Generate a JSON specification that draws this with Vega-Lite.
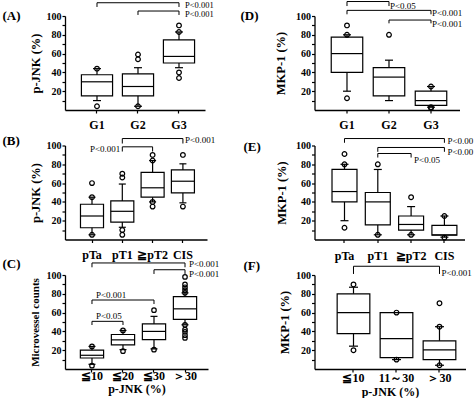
{
"$schema": "https://vega.github.io/schema/vega-lite/v6.json",
"padding": {"left": 2, "top": 0, "right": 0, "bottom": 0},
"bounds": "flush",
"columns": 2,
"spacing": {"row": 35.5, "column": 106.5},
"datasets": {
"A_box": [{"g":"G1","lo":10,"q1":15,"med":30,"q3":37.5,"hi":44},{"g":"G2","lo":4,"q1":15,"med":25,"q3":38.5,"hi":45},{"g":"G3","lo":45,"q1":50,"med":57,"q3":74.5,"hi":83}],
"A_out": [{"g":"G1","v":44},{"g":"G1","v":4},{"g":"G2","v":59},{"g":"G2","v":54},{"g":"G2","v":4},{"g":"G3","v":83},{"g":"G3","v":90},{"g":"G3","v":40},{"g":"G3","v":34}],
"A_br": [{"from":"G1","to":"G3","top":114.1,"drop":109.6},{"from":"G2","to":"G3","top":105.3,"drop":101.1}],
"A_pt": [{"g":"G3","y":112,"label":"P<0.001"},{"g":"G3","y":102.3,"label":"P<0.001"}],
"D_box": [{"g":"G1","lo":20,"q1":40,"med":60,"q3":77.5,"hi":80},{"g":"G2","lo":10,"q1":15,"med":35,"q3":45,"hi":53},{"g":"G3","lo":3,"q1":5,"med":10,"q3":20,"hi":25}],
"D_out": [{"g":"G1","v":90},{"g":"G1","v":80},{"g":"G1","v":12.5},{"g":"G2","v":80},{"g":"G3","v":25},{"g":"G3","v":3},{"g":"G3","v":2}],
"D_br": [{"from":"G1","to":"G2","top":115.4,"drop":110.6},{"from":"G1","to":"G3","top":106,"drop":101.8},{"from":"G2","to":"G3","top":95.7,"drop":92.2}],
"D_pt": [{"g":"G2","y":111,"label":"P<0.05"},{"g":"G3","y":102.9,"label":"P<0.001"},{"g":"G3","y":91.8,"label":"P<0.001"}],
"B_box": [{"g":"pTa","lo":5,"q1":12.5,"med":25,"q3":37.5,"hi":45},{"g":"pT1","lo":13,"q1":18.5,"med":30,"q3":41,"hi":59},{"g":"≧pT2","lo":40,"q1":45,"med":55,"q3":71.5,"hi":84},{"g":"CIS","lo":39,"q1":49.5,"med":62,"q3":74,"hi":80.5}],
"B_out": [{"g":"pTa","v":45},{"g":"pTa","v":60},{"g":"pTa","v":5},{"g":"pT1","v":70},{"g":"pT1","v":66},{"g":"pT1","v":10},{"g":"pT1","v":5},{"g":"≧pT2","v":84},{"g":"≧pT2","v":90},{"g":"≧pT2","v":40},{"g":"≧pT2","v":35},{"g":"CIS","v":90},{"g":"CIS","v":35}],
"B_br": [{"from":"pT1","to":"CIS","top":107.4,"drop":102.1},{"from":"pT1","to":"≧pT2","top":98.6,"drop":93.6}],
"B_ptr": [{"g":"CIS","y":105.6,"label":"P<0.001"}],
"B_ptl": [{"g":"pT1","y":96.5,"label":"P<0.001"}],
"E_box": [{"g":"pTa","lo":20,"q1":40,"med":51,"q3":74.5,"hi":80},{"g":"pT1","lo":5,"q1":15.5,"med":40,"q3":50,"hi":74.5},{"g":"≧pT2","lo":5,"q1":10,"med":16,"q3":25,"hi":35},{"g":"CIS","lo":2.5,"q1":4.5,"med":5,"q3":15,"hi":25}],
"E_out": [{"g":"pTa","v":91},{"g":"pTa","v":80},{"g":"pTa","v":12.5},{"g":"pT1","v":80},{"g":"pT1","v":5},{"g":"≧pT2","v":45},{"g":"≧pT2","v":5},{"g":"CIS","v":25},{"g":"CIS","v":2}],
"E_br": [{"from":"pTa","to":"CIS","top":107.4,"drop":102.9},{"from":"pT1","to":"CIS","top":97.9,"drop":93.3},{"from":"pT1","to":"≧pT2","top":91.5,"drop":87.2}],
"E_pt": [{"g":"CIS","y":105.3,"label":"P<0.001"},{"g":"CIS","y":92.8,"label":"P<0.001"},{"g":"≧pT2","y":84.4,"label":"P<0.05"}],
"C_box": [{"g":"≦10","lo":5,"q1":11.7,"med":14.6,"q3":20,"hi":24},{"g":"≦20","lo":20.6,"q1":25.6,"med":31,"q3":36.7,"hi":41},{"g":"≦30","lo":21.4,"q1":31.3,"med":40,"q3":48,"hi":56},{"g":"＞30","lo":47,"q1":52.7,"med":64,"q3":77,"hi":81}],
"C_out": [{"g":"≦10","v":24},{"g":"≦10","v":3.5},{"g":"≦20","v":41},{"g":"≦20","v":19},{"g":"≦30","v":62.6},{"g":"≦30","v":20.6},{"g":"＞30","v":98},{"g":"＞30","v":90},{"g":"＞30","v":87},{"g":"＞30","v":84},{"g":"＞30","v":81},{"g":"＞30","v":47},{"g":"＞30","v":42},{"g":"＞30","v":39.5},{"g":"＞30","v":36},{"g":"＞30","v":33}],
"C_br": [{"from":"≦10","to":"＞30","top":112.8,"drop":108.2},{"from":"≦30","to":"＞30","top":105.6,"drop":101.1},{"from":"≦10","to":"≦30","top":73.4,"drop":69.1},{"from":"≦10","to":"≦20","top":50.7,"drop":46.8}],
"C_pt": [{"g":"＞30","y":111.7,"label":"P<0.001"},{"g":"＞30","y":101.1,"label":"P<0.001"},{"g":"≦10","y":78.7,"label":"P<0.001"},{"g":"≦10","y":56.7,"label":"P<0.05"}],
"F_box": [{"g":"≦10","lo":24.3,"q1":37.7,"med":60,"q3":80,"hi":87},{"g":"11～30","lo":10,"q1":12,"med":32.4,"q3":60,"hi":60},{"g":"＞30","lo":4,"q1":10,"med":20.4,"q3":30,"hi":45}],
"F_out": [{"g":"≦10","v":90},{"g":"≦10","v":20},{"g":"11～30","v":60},{"g":"11～30","v":10},{"g":"＞30","v":70},{"g":"＞30","v":45},{"g":"＞30","v":4}],
"F_br": [{"from":"≦10","to":"＞30","top":109.3,"drop":101.1}],
"F_pt": [{"g":"＞30","y":101.8,"label":"P<0.001"}]
},
"concat": [
{"width": 140, "height": 94, "resolve": {"axis": {"y": "independent"}}, "layer": [
{"data": {"name": "A_box"}, "mark": {"type": "rule", "color": "black", "strokeWidth": 1.2},
 "encoding": {"x": {"field": "g", "type": "nominal", "title": null, "scale": {"domain": ["G1","G2","G3"], "paddingInner": 0, "paddingOuter": 0.2073, "align": 0.676}, "axis": {"labelPadding": 6}},
  "y": {"field": "lo", "type": "quantitative", "scale": {"domain": [0,100], "nice": false}, "axis": {"title": "p-JNK (%)", "titlePadding": 4, "values": [20,40,60,80,100]}},
  "y2": {"field": "hi"}}},
{"data": {"name": "A_box"}, "mark": {"type": "tick", "color": "black", "thickness": 1.2, "opacity": 1}, "encoding": {"x": {"field": "g", "type": "nominal"}, "y": {"field": "lo", "type": "quantitative", "axis": {"orient": "left", "values": [10,30,50,70,90], "labels": false, "domain": false, "title": null}}, "size": {"value": 8}}},
{"data": {"name": "A_box"}, "mark": {"type": "tick", "color": "black", "thickness": 1.2, "opacity": 1}, "encoding": {"x": {"field": "g", "type": "nominal"}, "y": {"field": "hi", "type": "quantitative", "axis": null}, "size": {"value": 8}}},
{"data": {"name": "A_box"}, "mark": {"type": "bar", "fill": "white", "stroke": "black", "strokeWidth": 1.2, "width": {"band": 0.76}}, "encoding": {"x": {"field": "g", "type": "nominal"}, "y": {"field": "q1", "type": "quantitative", "axis": null}, "y2": {"field": "q3"}}},
{"data": {"name": "A_box"}, "mark": {"type": "tick", "color": "black", "thickness": 1.2, "opacity": 1}, "encoding": {"x": {"field": "g", "type": "nominal"}, "y": {"field": "med", "type": "quantitative", "axis": null}, "size": {"value": 31}}},
{"data": {"name": "A_out"}, "mark": {"type": "point", "shape": "circle", "filled": false, "color": "black", "strokeWidth": 1.2, "size": 22, "opacity": 1}, "encoding": {"x": {"field": "g", "type": "nominal"}, "y": {"field": "v", "type": "quantitative", "axis": null}}},
{"data": {"name": "A_br"}, "mark": {"type": "rule", "color": "black", "strokeWidth": 1}, "encoding": {"x": {"field": "from", "type": "nominal"}, "x2": {"field": "to"}, "y": {"field": "top", "type": "quantitative", "axis": null}}},
{"data": {"name": "A_br"}, "mark": {"type": "rule", "color": "black", "strokeWidth": 1}, "encoding": {"x": {"field": "from", "type": "nominal"}, "y": {"field": "top", "type": "quantitative", "axis": null}, "y2": {"field": "drop"}}},
{"data": {"name": "A_br"}, "mark": {"type": "rule", "color": "black", "strokeWidth": 1}, "encoding": {"x": {"field": "to", "type": "nominal"}, "y": {"field": "top", "type": "quantitative", "axis": null}, "y2": {"field": "drop"}}},
{"data": {"name": "A_pt"}, "mark": {"type": "text", "align": "left", "baseline": "middle", "dx": 6, "font": "Liberation Serif", "fontSize": 8.5, "color": "black"}, "encoding": {"x": {"field": "g", "type": "nominal"}, "y": {"field": "y", "type": "quantitative", "axis": null}, "text": {"field": "label"}}},
{"data": {"values": [{"label": "(A)", "g": "G1", "y": 100}]}, "mark": {"type": "text", "align": "left", "baseline": "middle", "dx": -94.5, "font": "Liberation Serif", "fontSize": 13, "fontWeight": "bold", "color": "black"}, "encoding": {"x": {"field": "g", "type": "nominal"}, "y": {"field": "y", "type": "quantitative", "axis": null}, "text": {"field": "label"}}}
]},
{"width": 145, "height": 94, "resolve": {"axis": {"y": "independent"}}, "layer": [
{"data": {"name": "D_box"}, "mark": {"type": "rule", "color": "black", "strokeWidth": 1.2},
 "encoding": {"x": {"field": "g", "type": "nominal", "title": null, "scale": {"domain": ["G1","G2","G3"], "paddingInner": 0, "paddingOuter": 0.226, "align": 0.605}, "axis": {"labelPadding": 6}},
  "y": {"field": "lo", "type": "quantitative", "scale": {"domain": [0,100], "nice": false}, "axis": {"title": "MKP-1 (%)", "titlePadding": 8, "values": [20,40,60,80,100]}},
  "y2": {"field": "hi"}}},
{"data": {"name": "D_box"}, "mark": {"type": "tick", "color": "black", "thickness": 1.2, "opacity": 1}, "encoding": {"x": {"field": "g", "type": "nominal"}, "y": {"field": "lo", "type": "quantitative", "axis": {"orient": "left", "values": [10,30,50,70,90], "labels": false, "domain": false, "title": null}}, "size": {"value": 8}}},
{"data": {"name": "D_box"}, "mark": {"type": "tick", "color": "black", "thickness": 1.2, "opacity": 1}, "encoding": {"x": {"field": "g", "type": "nominal"}, "y": {"field": "hi", "type": "quantitative", "axis": null}, "size": {"value": 8}}},
{"data": {"name": "D_box"}, "mark": {"type": "bar", "fill": "white", "stroke": "black", "strokeWidth": 1.2, "width": {"band": 0.75}}, "encoding": {"x": {"field": "g", "type": "nominal"}, "y": {"field": "q1", "type": "quantitative", "axis": null}, "y2": {"field": "q3"}}},
{"data": {"name": "D_box"}, "mark": {"type": "tick", "color": "black", "thickness": 1.2, "opacity": 1}, "encoding": {"x": {"field": "g", "type": "nominal"}, "y": {"field": "med", "type": "quantitative", "axis": null}, "size": {"value": 31.5}}},
{"data": {"name": "D_out"}, "mark": {"type": "point", "shape": "circle", "filled": false, "color": "black", "strokeWidth": 1.2, "size": 22, "opacity": 1}, "encoding": {"x": {"field": "g", "type": "nominal"}, "y": {"field": "v", "type": "quantitative", "axis": null}}},
{"data": {"name": "D_br"}, "mark": {"type": "rule", "color": "black", "strokeWidth": 1}, "encoding": {"x": {"field": "from", "type": "nominal"}, "x2": {"field": "to"}, "y": {"field": "top", "type": "quantitative", "axis": null}}},
{"data": {"name": "D_br"}, "mark": {"type": "rule", "color": "black", "strokeWidth": 1}, "encoding": {"x": {"field": "from", "type": "nominal"}, "y": {"field": "top", "type": "quantitative", "axis": null}, "y2": {"field": "drop"}}},
{"data": {"name": "D_br"}, "mark": {"type": "rule", "color": "black", "strokeWidth": 1}, "encoding": {"x": {"field": "to", "type": "nominal"}, "y": {"field": "top", "type": "quantitative", "axis": null}, "y2": {"field": "drop"}}},
{"data": {"name": "D_pt"}, "mark": {"type": "text", "align": "left", "baseline": "middle", "dx": 1, "font": "Liberation Serif", "fontSize": 9, "color": "black"}, "encoding": {"x": {"field": "g", "type": "nominal"}, "y": {"field": "y", "type": "quantitative", "axis": null}, "text": {"field": "label"}}},
{"data": {"values": [{"label": "(D)", "g": "G1", "y": 100}]}, "mark": {"type": "text", "align": "left", "baseline": "middle", "dx": -106.5, "font": "Liberation Serif", "fontSize": 13, "fontWeight": "bold", "color": "black"}, "encoding": {"x": {"field": "g", "type": "nominal"}, "y": {"field": "y", "type": "quantitative", "axis": null}, "text": {"field": "label"}}}
]},
{"width": 142, "height": 94, "resolve": {"axis": {"y": "independent"}}, "layer": [
{"data": {"name": "B_box"}, "mark": {"type": "rule", "color": "black", "strokeWidth": 1.2},
 "encoding": {"x": {"field": "g", "type": "nominal", "title": null, "scale": {"domain": ["pTa","pT1","≧pT2","CIS"], "paddingInner": 0, "paddingOuter": 0.343, "align": 0.57}, "axis": {"labelPadding": 7}},
  "y": {"field": "lo", "type": "quantitative", "scale": {"domain": [0,100], "nice": false}, "axis": {"title": "p-JNK (%)", "titlePadding": 4, "values": [20,40,60,80,100]}},
  "y2": {"field": "hi"}}},
{"data": {"name": "B_box"}, "mark": {"type": "tick", "color": "black", "thickness": 1.2, "opacity": 1}, "encoding": {"x": {"field": "g", "type": "nominal"}, "y": {"field": "lo", "type": "quantitative", "axis": {"orient": "left", "values": [10,30,50,70,90], "labels": false, "domain": false, "title": null}}, "size": {"value": 7}}},
{"data": {"name": "B_box"}, "mark": {"type": "tick", "color": "black", "thickness": 1.2, "opacity": 1}, "encoding": {"x": {"field": "g", "type": "nominal"}, "y": {"field": "hi", "type": "quantitative", "axis": null}, "size": {"value": 7}}},
{"data": {"name": "B_box"}, "mark": {"type": "bar", "fill": "white", "stroke": "black", "strokeWidth": 1.2, "width": {"band": 0.76}}, "encoding": {"x": {"field": "g", "type": "nominal"}, "y": {"field": "q1", "type": "quantitative", "axis": null}, "y2": {"field": "q3"}}},
{"data": {"name": "B_box"}, "mark": {"type": "tick", "color": "black", "thickness": 1.2, "opacity": 1}, "encoding": {"x": {"field": "g", "type": "nominal"}, "y": {"field": "med", "type": "quantitative", "axis": null}, "size": {"value": 23}}},
{"data": {"name": "B_out"}, "mark": {"type": "point", "shape": "circle", "filled": false, "color": "black", "strokeWidth": 1.2, "size": 22, "opacity": 1}, "encoding": {"x": {"field": "g", "type": "nominal"}, "y": {"field": "v", "type": "quantitative", "axis": null}}},
{"data": {"name": "B_br"}, "mark": {"type": "rule", "color": "black", "strokeWidth": 1}, "encoding": {"x": {"field": "from", "type": "nominal"}, "x2": {"field": "to"}, "y": {"field": "top", "type": "quantitative", "axis": null}}},
{"data": {"name": "B_br"}, "mark": {"type": "rule", "color": "black", "strokeWidth": 1}, "encoding": {"x": {"field": "from", "type": "nominal"}, "y": {"field": "top", "type": "quantitative", "axis": null}, "y2": {"field": "drop"}}},
{"data": {"name": "B_br"}, "mark": {"type": "rule", "color": "black", "strokeWidth": 1}, "encoding": {"x": {"field": "to", "type": "nominal"}, "y": {"field": "top", "type": "quantitative", "axis": null}, "y2": {"field": "drop"}}},
{"data": {"name": "B_ptr"}, "mark": {"type": "text", "align": "left", "baseline": "middle", "dx": 2, "font": "Liberation Serif", "fontSize": 9, "color": "black"}, "encoding": {"x": {"field": "g", "type": "nominal"}, "y": {"field": "y", "type": "quantitative", "axis": null}, "text": {"field": "label"}}},
{"data": {"name": "B_ptl"}, "mark": {"type": "text", "align": "right", "baseline": "middle", "dx": -2, "font": "Liberation Serif", "fontSize": 9, "color": "black"}, "encoding": {"x": {"field": "g", "type": "nominal"}, "y": {"field": "y", "type": "quantitative", "axis": null}, "text": {"field": "label"}}},
{"data": {"values": [{"label": "(B)", "g": "pTa", "y": 105.3}]}, "mark": {"type": "text", "align": "left", "baseline": "middle", "dx": -89.5, "font": "Liberation Serif", "fontSize": 13, "fontWeight": "bold", "color": "black"}, "encoding": {"x": {"field": "g", "type": "nominal"}, "y": {"field": "y", "type": "quantitative", "axis": null}, "text": {"field": "label"}}}
]},
{"width": 150, "height": 94, "resolve": {"axis": {"y": "independent"}}, "layer": [
{"data": {"name": "E_box"}, "mark": {"type": "rule", "color": "black", "strokeWidth": 1.2},
 "encoding": {"x": {"field": "g", "type": "nominal", "title": null, "scale": {"domain": ["pTa","pT1","≧pT2","CIS"], "paddingInner": 0, "paddingOuter": 0.252, "align": 0.795}, "axis": {"labelPadding": 7.5}},
  "y": {"field": "lo", "type": "quantitative", "scale": {"domain": [0,100], "nice": false}, "axis": {"title": "MKP-1 (%)", "titlePadding": 7, "values": [20,40,60,80,100]}},
  "y2": {"field": "hi"}}},
{"data": {"name": "E_box"}, "mark": {"type": "tick", "color": "black", "thickness": 1.2, "opacity": 1}, "encoding": {"x": {"field": "g", "type": "nominal"}, "y": {"field": "lo", "type": "quantitative", "axis": {"orient": "left", "values": [10,30,50,70,90], "labels": false, "domain": false, "title": null}}, "size": {"value": 8}}},
{"data": {"name": "E_box"}, "mark": {"type": "tick", "color": "black", "thickness": 1.2, "opacity": 1}, "encoding": {"x": {"field": "g", "type": "nominal"}, "y": {"field": "hi", "type": "quantitative", "axis": null}, "size": {"value": 8}}},
{"data": {"name": "E_box"}, "mark": {"type": "bar", "fill": "white", "stroke": "black", "strokeWidth": 1.2, "width": {"band": 0.75}}, "encoding": {"x": {"field": "g", "type": "nominal"}, "y": {"field": "q1", "type": "quantitative", "axis": null}, "y2": {"field": "q3"}}},
{"data": {"name": "E_box"}, "mark": {"type": "tick", "color": "black", "thickness": 1.2, "opacity": 1}, "encoding": {"x": {"field": "g", "type": "nominal"}, "y": {"field": "med", "type": "quantitative", "axis": null}, "size": {"value": 25}}},
{"data": {"name": "E_out"}, "mark": {"type": "point", "shape": "circle", "filled": false, "color": "black", "strokeWidth": 1.2, "size": 22, "opacity": 1}, "encoding": {"x": {"field": "g", "type": "nominal"}, "y": {"field": "v", "type": "quantitative", "axis": null}}},
{"data": {"name": "E_br"}, "mark": {"type": "rule", "color": "black", "strokeWidth": 1}, "encoding": {"x": {"field": "from", "type": "nominal"}, "x2": {"field": "to"}, "y": {"field": "top", "type": "quantitative", "axis": null}}},
{"data": {"name": "E_br"}, "mark": {"type": "rule", "color": "black", "strokeWidth": 1}, "encoding": {"x": {"field": "from", "type": "nominal"}, "y": {"field": "top", "type": "quantitative", "axis": null}, "y2": {"field": "drop"}}},
{"data": {"name": "E_br"}, "mark": {"type": "rule", "color": "black", "strokeWidth": 1}, "encoding": {"x": {"field": "to", "type": "nominal"}, "y": {"field": "top", "type": "quantitative", "axis": null}, "y2": {"field": "drop"}}},
{"data": {"name": "E_pt"}, "mark": {"type": "text", "align": "left", "baseline": "middle", "dx": 3, "font": "Liberation Serif", "fontSize": 9, "color": "black", "limit": 27, "ellipsis": "\u200b"}, "encoding": {"x": {"field": "g", "type": "nominal"}, "y": {"field": "y", "type": "quantitative", "axis": null}, "text": {"field": "label"}}},
{"data": {"values": [{"label": "(E)", "g": "pTa", "y": 98.9}]}, "mark": {"type": "text", "align": "left", "baseline": "middle", "dx": -101, "font": "Liberation Serif", "fontSize": 13, "fontWeight": "bold", "color": "black"}, "encoding": {"x": {"field": "g", "type": "nominal"}, "y": {"field": "y", "type": "quantitative", "axis": null}, "text": {"field": "label"}}}
]},
{"width": 143, "height": 94, "resolve": {"axis": {"y": "independent"}}, "layer": [
{"data": {"name": "C_box"}, "mark": {"type": "rule", "color": "black", "strokeWidth": 1.2},
 "encoding": {"x": {"field": "g", "type": "nominal", "title": "p-JNK (%)", "scale": {"domain": ["≦10","≦20","≦30","＞30"], "paddingInner": 0, "paddingOuter": 0.306, "align": 0.605}, "axis": {"labelPadding": -2, "titlePadding": 2, "titleFontSize": 12}},
  "y": {"field": "lo", "type": "quantitative", "scale": {"domain": [0,100], "nice": false}, "axis": {"title": "Microvessel counts", "titleFontSize": 11, "titlePadding": 6, "values": [20,40,60,80,100]}},
  "y2": {"field": "hi"}}},
{"data": {"name": "C_box"}, "mark": {"type": "tick", "color": "black", "thickness": 1.2, "opacity": 1}, "encoding": {"x": {"field": "g", "type": "nominal"}, "y": {"field": "lo", "type": "quantitative", "axis": {"orient": "left", "values": [10,30,50,70,90], "labels": false, "domain": false, "title": null}}, "size": {"value": 7}}},
{"data": {"name": "C_box"}, "mark": {"type": "tick", "color": "black", "thickness": 1.2, "opacity": 1}, "encoding": {"x": {"field": "g", "type": "nominal"}, "y": {"field": "hi", "type": "quantitative", "axis": null}, "size": {"value": 7}}},
{"data": {"name": "C_box"}, "mark": {"type": "bar", "fill": "white", "stroke": "black", "strokeWidth": 1.2, "width": {"band": 0.75}}, "encoding": {"x": {"field": "g", "type": "nominal"}, "y": {"field": "q1", "type": "quantitative", "axis": null}, "y2": {"field": "q3"}}},
{"data": {"name": "C_box"}, "mark": {"type": "tick", "color": "black", "thickness": 1.2, "opacity": 1}, "encoding": {"x": {"field": "g", "type": "nominal"}, "y": {"field": "med", "type": "quantitative", "axis": null}, "size": {"value": 23.5}}},
{"data": {"name": "C_out"}, "mark": {"type": "point", "shape": "circle", "filled": false, "color": "black", "strokeWidth": 1.2, "size": 20, "opacity": 1}, "encoding": {"x": {"field": "g", "type": "nominal"}, "y": {"field": "v", "type": "quantitative", "axis": null}}},
{"data": {"name": "C_br"}, "mark": {"type": "rule", "color": "black", "strokeWidth": 1}, "encoding": {"x": {"field": "from", "type": "nominal"}, "x2": {"field": "to"}, "y": {"field": "top", "type": "quantitative", "axis": null}}},
{"data": {"name": "C_br"}, "mark": {"type": "rule", "color": "black", "strokeWidth": 1}, "encoding": {"x": {"field": "from", "type": "nominal"}, "y": {"field": "top", "type": "quantitative", "axis": null}, "y2": {"field": "drop"}}},
{"data": {"name": "C_br"}, "mark": {"type": "rule", "color": "black", "strokeWidth": 1}, "encoding": {"x": {"field": "to", "type": "nominal"}, "y": {"field": "top", "type": "quantitative", "axis": null}, "y2": {"field": "drop"}}},
{"data": {"name": "C_pt"}, "mark": {"type": "text", "align": "left", "baseline": "middle", "dx": 4, "font": "Liberation Serif", "fontSize": 9, "color": "black"}, "encoding": {"x": {"field": "g", "type": "nominal"}, "y": {"field": "y", "type": "quantitative", "axis": null}, "text": {"field": "label"}}},
{"data": {"values": [{"label": "(C)", "g": "≦10", "y": 111.7}]}, "mark": {"type": "text", "align": "left", "baseline": "middle", "dx": -89.5, "font": "Liberation Serif", "fontSize": 13, "fontWeight": "bold", "color": "black"}, "encoding": {"x": {"field": "g", "type": "nominal"}, "y": {"field": "y", "type": "quantitative", "axis": null}, "text": {"field": "label"}}}
]},
{"width": 151, "height": 94, "resolve": {"axis": {"y": "independent"}}, "layer": [
{"data": {"name": "F_box"}, "mark": {"type": "rule", "color": "black", "strokeWidth": 1.2},
 "encoding": {"x": {"field": "g", "type": "nominal", "title": "p-JNK (%)", "scale": {"domain": ["≦10","11～30","＞30"], "paddingInner": 0, "paddingOuter": 0.256, "align": 0.795}, "axis": {"labelPadding": 0.5, "titlePadding": 3, "titleFontSize": 12}},
  "y": {"field": "lo", "type": "quantitative", "scale": {"domain": [0,100], "nice": false}, "axis": {"title": "MKP-1 (%)", "titlePadding": 4, "values": [20,40,60,80,100]}},
  "y2": {"field": "hi"}}},
{"data": {"name": "F_box"}, "mark": {"type": "tick", "color": "black", "thickness": 1.2, "opacity": 1}, "encoding": {"x": {"field": "g", "type": "nominal"}, "y": {"field": "lo", "type": "quantitative", "axis": {"orient": "left", "values": [10,30,50,70,90], "labels": false, "domain": false, "title": null}}, "size": {"value": 9}}},
{"data": {"name": "F_box"}, "mark": {"type": "tick", "color": "black", "thickness": 1.2, "opacity": 1}, "encoding": {"x": {"field": "g", "type": "nominal"}, "y": {"field": "hi", "type": "quantitative", "axis": null}, "size": {"value": 9}}},
{"data": {"name": "F_box"}, "mark": {"type": "bar", "fill": "white", "stroke": "black", "strokeWidth": 1.2, "width": {"band": 0.76}}, "encoding": {"x": {"field": "g", "type": "nominal"}, "y": {"field": "q1", "type": "quantitative", "axis": null}, "y2": {"field": "q3"}}},
{"data": {"name": "F_box"}, "mark": {"type": "tick", "color": "black", "thickness": 1.2, "opacity": 1}, "encoding": {"x": {"field": "g", "type": "nominal"}, "y": {"field": "med", "type": "quantitative", "axis": null}, "size": {"value": 32.7}}},
{"data": {"name": "F_out"}, "mark": {"type": "point", "shape": "circle", "filled": false, "color": "black", "strokeWidth": 1.2, "size": 22, "opacity": 1}, "encoding": {"x": {"field": "g", "type": "nominal"}, "y": {"field": "v", "type": "quantitative", "axis": null}}},
{"data": {"name": "F_br"}, "mark": {"type": "rule", "color": "black", "strokeWidth": 1}, "encoding": {"x": {"field": "from", "type": "nominal"}, "x2": {"field": "to"}, "y": {"field": "top", "type": "quantitative", "axis": null}}},
{"data": {"name": "F_br"}, "mark": {"type": "rule", "color": "black", "strokeWidth": 1}, "encoding": {"x": {"field": "from", "type": "nominal"}, "y": {"field": "top", "type": "quantitative", "axis": null}, "y2": {"field": "drop"}}},
{"data": {"name": "F_br"}, "mark": {"type": "rule", "color": "black", "strokeWidth": 1}, "encoding": {"x": {"field": "to", "type": "nominal"}, "y": {"field": "top", "type": "quantitative", "axis": null}, "y2": {"field": "drop"}}},
{"data": {"name": "F_pt"}, "mark": {"type": "text", "align": "left", "baseline": "middle", "dx": 2, "font": "Liberation Serif", "fontSize": 9, "color": "black"}, "encoding": {"x": {"field": "g", "type": "nominal"}, "y": {"field": "y", "type": "quantitative", "axis": null}, "text": {"field": "label"}}},
{"data": {"values": [{"label": "(F)", "g": "≦10", "y": 109.6}]}, "mark": {"type": "text", "align": "left", "baseline": "middle", "dx": -110, "font": "Liberation Serif", "fontSize": 13, "fontWeight": "bold", "color": "black"}, "encoding": {"x": {"field": "g", "type": "nominal"}, "y": {"field": "y", "type": "quantitative", "axis": null}, "text": {"field": "label"}}}
]}
],
"config": {
 "view": {"stroke": null},
 "axis": {"grid": false, "domainColor": "black", "domainWidth": 1.3, "tickColor": "black", "tickWidth": 1.2, "labelColor": "black", "titleColor": "black", "labelFont": "Liberation Serif", "titleFont": "Liberation Serif", "labelFontWeight": "bold", "titleFontWeight": "bold"},
 "axisX": {"tickSize": 3, "labelFontSize": 12, "labelAngle": 0, "titleFontSize": 12.5},
 "axisY": {"tickSize": 3, "labelPadding": 1, "labelFontSize": 10, "titleFontSize": 12.5}
}
}
